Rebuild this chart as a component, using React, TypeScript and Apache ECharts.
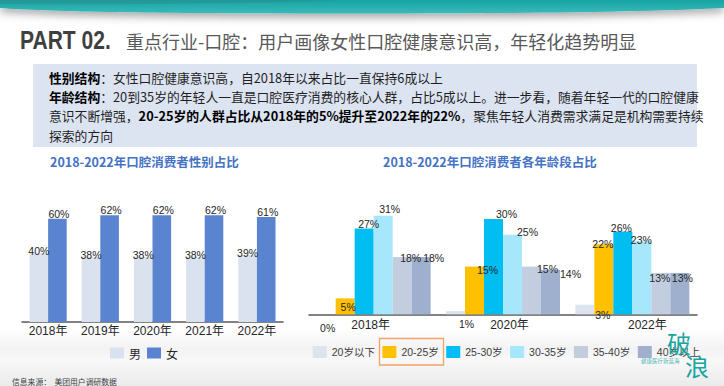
import React, { useEffect, useRef } from 'react';
import * as echarts from 'echarts';

// ---------- data ----------
const genderYears = ['2018年', '2019年', '2020年', '2021年', '2022年'];
const genderNames = ['男', '女'];
const maleShare = [40, 38, 38, 38, 39];
const femaleShare = [60, 62, 62, 62, 61];

const ageYears = ['2018年', '2020年', '2022年'];
const ageGroups = ['20岁以下', '20-25岁', '25-30岁', '30-35岁', '35-40岁', '40岁以上'];
const ageUnder20 = [0, 1, 3];
const age20to25 = [5, 15, 22];
const age25to30 = [27, 30, 26];
const age30to35 = [31, 25, 23];
const age35to40 = [18, 15, 13];
const age40plus = [18, 14, 13];

// ---------- texts ----------
const partLabel = 'PART 02.';
const pageTitle = '重点行业-口腔：用户画像女性口腔健康意识高，年轻化趋势明显';
const line1 = '{b|性别结构}{n|：女性口腔健康意识高，自2018年以来占比一直保持6成以上}';
const line2 = '{b|年龄结构}{n|：20到35岁的年轻人一直是口腔医疗消费的核心人群，占比5成以上。进一步看，随着年轻一代的口腔健康}';
const line3 = '{n|意识不断增强，}{b|20-25岁的人群占比从2018年的5%提升至2022年的22%}{n|，聚焦年轻人消费需求满足是机构需要持续}';
const line4 = '{n|探索的方向}';
const leftTitle = '2018-2022年口腔消费者性别占比';
const rightTitle = '2018-2022年口腔消费者各年龄段占比';
const sourceText = '信息来源：  美团用户调研数据';

// ---------- styling / layout (not data) ----------
const genderColors = ['#dae2ef', '#5b84d0'];
const ageColors = ['#dde4ef', '#ffc000', '#00bdf2', '#a6e7fb', '#c3cde0', '#9eb0cd'];
const ageLabelNudge = [
  [[1.5, 18.5], [11, 18], [18, 15.5]],
  [[3, 13.5], [13, 8.5], [-1, 4.5]],
  [[4.5, 0.5], [13, 0.5], [-1.5, 2]],
  [[6.5, -1.5], [15, 2.5], [-0.5, 4.5]],
  [[8.5, 6.5], [16, 7.5], [-1, 10]],
  [[12.5, 6.5], [20, 9.5], [2.5, 10]],
];
const ageAxisLabelPadding = [[0, 6, 0, 0], [0, 0, 0, 13], [0, 0, 0, 30]];

const BANNER_D = 'M0 0 L724 0 L724 8 C640 12 520 13.5 362 13.5 C200 13.5 60 12.5 0 8 Z';
const BANNER_TOP_D = 'M0 0 L340 0 C250 4 100 5 0 4 Z';

const CJK = '"Noto Sans CJK SC", sans-serif';
const LAT = '"Liberation Sans", "Noto Sans CJK SC", sans-serif';

export default function App() {
  const ref = useRef<HTMLDivElement>(null);

  useEffect(() => {
    document.body.style.margin = '0';
    try {
      echarts.graphic.registerShape('bannerMain', echarts.graphic.extendPath(BANNER_D, {}));
      echarts.graphic.registerShape('bannerTop', echarts.graphic.extendPath(BANNER_TOP_D, {}));
    } catch (e) {
      /* already registered */
    }
    const chart = echarts.init(ref.current as HTMLDivElement, null, { renderer: 'svg' });

    const bodyRich = {
      b: { fontFamily: CJK, fontSize: 12.8, fontWeight: 'bold', fill: '#000000' },
      n: { fontFamily: CJK, fontSize: 12.8, fill: '#1f1f1f' },
    };

    const ageSeriesValues = [ageUnder20, age20to25, age25to30, age30to35, age35to40, age40plus];

    const barLabel = {
      show: true,
      position: 'top',
      distance: 0,
      formatter: '{c}%',
      fontFamily: LAT,
      fontSize: 10.5,
      color: '#262626',
    };

    const option: any = {
      animation: false,
      backgroundColor: '#ffffff',
      graphic: [
        {
          type: 'rect',
          z: -10,
          shape: { x: 0, y: 328, width: 724, height: 58 },
          style: {
            fill: new echarts.graphic.LinearGradient(0, 0, 0, 1, [
              { offset: 0, color: '#ffffff' },
              { offset: 0.35, color: '#f3f3f3' },
              { offset: 0.55, color: '#f8f8f8' },
              { offset: 1, color: '#ebebeb' },
            ]),
          },
        },
        {
          type: 'bannerMain',
          x: 0,
          y: 0,
          style: {
            fill: new echarts.graphic.LinearGradient(0, 0, 0, 1, [
              { offset: 0, color: '#17a3a3' },
              { offset: 1, color: '#3bbaba' },
            ]),
            shadowBlur: 9,
            shadowColor: 'rgba(0,0,0,0.35)',
            shadowOffsetY: 4,
          },
        },
        {
          type: 'bannerTop',
          x: 0,
          y: 0,
          style: { fill: '#2a8f90', opacity: 0.6 },
        },
        {
          type: 'text',
          x: 20,
          y: 40,
          scaleX: 0.81,
          style: {
            text: partLabel,
            fontFamily: LAT,
            fontWeight: 'bold',
            fontSize: 26,
            fill: '#3f3f3f',
            verticalAlign: 'middle',
          },
        },
        {
          type: 'text',
          x: 126,
          y: 41,
          style: {
            text: pageTitle,
            fontFamily: CJK,
            fontSize: 18,
            fill: '#595959',
            verticalAlign: 'middle',
          },
        },
        {
          type: 'rect',
          shape: { x: 33, y: 64, width: 664, height: 83 },
          style: { fill: '#dce4f2' },
        },
        { type: 'text', x: 49, y: 77.5, style: { text: line1, rich: bodyRich, verticalAlign: 'middle' } },
        { type: 'text', x: 49, y: 96.5, style: { text: line2, rich: bodyRich, verticalAlign: 'middle' } },
        { type: 'text', x: 49, y: 115.5, style: { text: line3, rich: bodyRich, verticalAlign: 'middle' } },
        { type: 'text', x: 49, y: 135, style: { text: line4, rich: bodyRich, verticalAlign: 'middle' } },
        {
          type: 'text',
          x: 50,
          y: 161,
          style: {
            text: leftTitle,
            fontFamily: CJK,
            fontWeight: 'bold',
            fontSize: 12.5,
            fill: '#4472c4',
            verticalAlign: 'middle',
          },
        },
        {
          type: 'text',
          x: 383,
          y: 161,
          style: {
            text: rightTitle,
            fontFamily: CJK,
            fontWeight: 'bold',
            fontSize: 12.5,
            fill: '#4472c4',
            verticalAlign: 'middle',
          },
        },
        {
          type: 'text',
          x: 12,
          y: 381.5,
          style: {
            text: sourceText,
            fontFamily: CJK,
            fontSize: 7.8,
            fill: '#404040',
            verticalAlign: 'middle',
          },
        },
        {
          type: 'rect',
          z: 100,
          shape: { x: 379.5, y: 338.5, width: 64, height: 26.5 },
          style: { fill: 'none', stroke: '#f5a26a', lineWidth: 1.3 },
        },
        {
          type: 'text',
          z: 101,
          x: 667,
          y: 330,
          style: {
            text: '破',
            fontFamily: CJK,
            fontSize: 24,
            fill: '#16a59f',
          },
        },
        {
          type: 'text',
          z: 101,
          x: 685,
          y: 353,
          style: {
            text: '浪',
            fontFamily: CJK,
            fontSize: 24,
            fill: '#16a59f',
          },
        },
        {
          type: 'text',
          z: 101,
          x: 641,
          y: 361,
          style: {
            text: '健康医疗新蓝海',
            fontFamily: CJK,
            fontSize: 5.5,
            fill: '#47b5b0',
            verticalAlign: 'middle',
          },
        },
      ],
      grid: [
        { left: 22, top: 201.6, width: 261, height: 120.4 },
        { left: 309, top: 203, width: 388, height: 111.3 },
      ],
      xAxis: [
        {
          type: 'category',
          gridIndex: 0,
          data: genderYears,
          axisLine: { lineStyle: { color: '#595959', width: 1.5 } },
          axisTick: { show: false },
          axisLabel: { color: '#262626', fontSize: 12, fontFamily: LAT, margin: 3 },
        },
        {
          type: 'category',
          gridIndex: 1,
          data: ageYears.map((y, i) => ({ value: y, textStyle: { padding: ageAxisLabelPadding[i] } })),
          axisLine: { lineStyle: { color: '#595959', width: 1.5 } },
          axisTick: { show: false },
          axisLabel: { color: '#262626', fontSize: 12, fontFamily: LAT, margin: 5 },
        },
      ],
      yAxis: [
        { type: 'value', gridIndex: 0, min: 0, max: 70, show: false },
        { type: 'value', gridIndex: 1, min: 0, max: 35, show: false },
      ],
      legend: [
        {
          data: genderNames,
          left: 105,
          top: 342,
          itemWidth: 14,
          itemHeight: 11,
          itemGap: 6,
          icon: 'rect',
          textStyle: { color: '#262626', fontSize: 12, fontFamily: CJK },
        },
        {
          data: ageGroups,
          left: 307.7,
          top: 341,
          itemWidth: 14,
          itemHeight: 12,
          itemGap: 7.5,
          icon: 'rect',
          textStyle: { color: '#404040', fontSize: 10.5, fontFamily: LAT },
        },
      ],
      series: [
        {
          name: genderNames[0],
          type: 'bar',
          xAxisIndex: 0,
          yAxisIndex: 0,
          data: maleShare,
          barWidth: 18.6,
          barGap: '0%',
          itemStyle: { color: genderColors[0] },
          label: { ...barLabel, offset: [0, 3.5] },
        },
        {
          name: genderNames[1],
          type: 'bar',
          xAxisIndex: 0,
          yAxisIndex: 0,
          data: femaleShare,
          barWidth: 18.6,
          barGap: '0%',
          itemStyle: { color: genderColors[1] },
          label: { ...barLabel, offset: [1.5, 0] },
        },
        ...ageSeriesValues.map((vals, s) => ({
          name: ageGroups[s],
          type: 'bar',
          xAxisIndex: 1,
          yAxisIndex: 1,
          barWidth: 19,
          barGap: '0%',
          itemStyle: { color: ageColors[s] },
          data: vals.map((v, i) => ({ value: v, label: { offset: ageLabelNudge[s][i] } })),
          label: barLabel,
        })),
      ],
    };

    chart.setOption(option);
    return () => chart.dispose();
  }, []);

  return <div ref={ref} style={{ width: 724, height: 386 }} />;
}
